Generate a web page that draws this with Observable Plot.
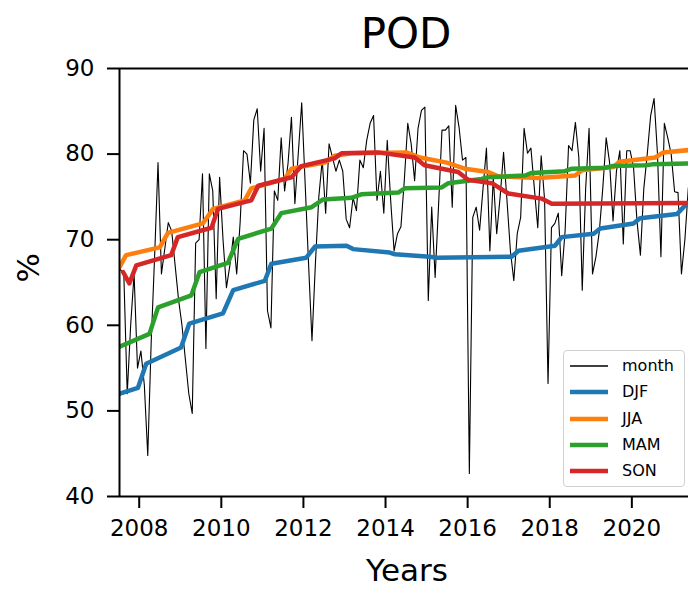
<!DOCTYPE html>
<html>
<head>
<meta charset="utf-8">
<script src="https://cdn.jsdelivr.net/npm/d3@7"></script>
<script src="https://cdn.jsdelivr.net/npm/@observablehq/plot@0.6"></script>
<style>
  body { margin: 0; background: white; font-family: "DejaVu Sans", sans-serif; }
  #wrap { position: relative; width: 688px; height: 589px; overflow: hidden; }
  #legend { position: absolute; left: 563px; top: 350px; width: 122px; height: 137px;
            border: 1px solid #d0d0d0; border-radius: 4px; background: rgba(255,255,255,0.85);
            box-sizing: border-box; }
  .row { position: absolute; left: 0; height: 20px; display: flex; align-items: center; }
  .row span { position: absolute; left: 58px; font-size: 16px; color: #000; white-space: nowrap; line-height: 20px; }
</style>
</head>
<body>
<div id="wrap"><div id="chart"></div><div id="legend"></div></div>
<script>
// ---- data ----
const titleText = "POD";
const xLabel = "Years";
const yLabel = "%";
const xDomain = [2007.52, 2021.38];
const yDomain = [40, 90];
const xTicks = [2008, 2010, 2012, 2014, 2016, 2018, 2020];
const yTicks = [40, 50, 60, 70, 80, 90];

// monthly series, first value = July 2007
const monthStartYear = 2007;
const monthStartMonth = 7;
const monthly = [
  66.5, 66, 52, 60, 66, 55, 57, 53, 44.8, 58, 68, 79,
  66, 69, 72, 71, 67, 63, 60, 56, 52, 49.7, 69.6, 70,
  77.7, 57.3, 77.7, 75.7, 63.1, 77.3, 70, 64.4, 67, 70.3, 66, 72,
  80.4, 80, 76.6, 84, 85.3, 78, 83, 61.7, 59.7, 75.7, 74.6, 81.9,
  75.7, 78.9, 84.3, 74.2, 80.1, 86, 76.6, 67.2, 58.2, 67.2, 75, 79.3,
  73.1, 81.2, 79.6, 78, 79.3, 78, 72.4, 71.4, 74.9, 73.4, 79.3, 78.4,
  81.6, 83.6, 84.5, 74.6, 78, 73.1, 81.6, 74.6, 68.7, 70.7, 71.5, 77,
  83.6, 81.2, 76.9, 83, 85.1, 85.5, 62.9, 73.8, 65.6, 74, 82.8, 82.8,
  83.3, 73.8, 85.7, 83.1, 79.3, 79.6, 42.7, 72.6, 73.8, 71.1, 76, 80.7,
  68.7, 77.3, 70.7, 75, 80.2, 74.6, 68.7, 65.2, 70.7, 72.6, 83, 80.1,
  80.7, 76, 71.4, 79.8, 74.6, 53.2, 71.4, 71.9, 73.1, 65.8, 71.1, 81,
  80.4, 83.7, 79.6, 64.1, 76, 83, 66, 68, 71, 76, 81.9, 79,
  72.2, 78, 80.4, 69.5, 80.4, 80.4, 78.4, 72.2, 68.2, 76, 80, 84.5,
  86.5, 80, 68, 83.6, 81.9, 80, 75.6, 75.5, 66, 70, 76, 79
];

const djfYears  = [2007.51, 2007.97, 2008.17, 2009.02, 2009.22, 2010.04, 2010.29, 2011.06, 2011.22, 2012.07, 2012.28, 2013.05, 2013.21, 2014.10, 2014.23, 2015.08, 2015.24, 2017.07, 2017.24, 2018.13, 2018.29, 2019.07, 2019.23, 2020.04, 2020.20, 2021.10, 2021.26, 2021.45];
const djfValues = [52.0, 52.7, 55.5, 57.4, 60.2, 61.4, 64.1, 65.2, 67.2, 67.9, 69.2, 69.3, 68.9, 68.5, 68.3, 68.0, 67.9, 68.0, 68.7, 69.3, 70.3, 70.7, 71.3, 71.9, 72.5, 73.0, 73.8, 74.6];

const jjaYears  = [2007.52, 2007.68, 2008.50, 2008.70, 2009.55, 2009.80, 2010.57, 2010.73, 2011.54, 2011.71, 2012.52, 2012.76, 2013.17, 2014.51, 2014.84, 2015.49, 2015.93, 2016.50, 2016.75, 2017.72, 2018.62, 2018.78, 2019.55, 2019.70, 2020.57, 2020.77, 2021.45];
const jjaValues = [66.8, 68.2, 69.1, 70.8, 71.9, 73.6, 74.6, 76.0, 77.1, 78.3, 79.0, 79.8, 80.1, 80.2, 79.6, 79.0, 78.3, 77.9, 77.4, 77.2, 77.5, 78.1, 78.5, 79.1, 79.6, 80.2, 80.5];

const mamYears  = [2007.52, 2008.25, 2008.46, 2009.27, 2009.47, 2010.16, 2010.41, 2011.22, 2011.46, 2012.20, 2012.48, 2013.17, 2013.41, 2014.31, 2014.47, 2015.37, 2015.53, 2016.34, 2016.50, 2017.40, 2017.56, 2018.37, 2018.54, 2019.35, 2019.52, 2020.33, 2020.50, 2021.45];
const mamValues = [57.5, 59.0, 62.1, 63.5, 66.2, 67.3, 70.1, 71.3, 73.1, 73.8, 74.7, 74.9, 75.3, 75.5, 76.0, 76.1, 76.6, 77.1, 77.3, 77.5, 77.8, 78.0, 78.3, 78.4, 78.6, 78.7, 78.8, 78.9];

const sonYears  = [2007.61, 2007.76, 2007.93, 2008.78, 2008.94, 2009.76, 2009.92, 2010.73, 2010.90, 2011.71, 2011.95, 2012.76, 2012.93, 2013.82, 2014.71, 2014.95, 2015.77, 2016.01, 2016.59, 2016.99, 2017.80, 2018.05, 2021.45];
const sonValues = [66.2, 64.9, 67.0, 68.2, 70.3, 71.4, 73.6, 74.6, 76.3, 77.3, 78.6, 79.5, 80.1, 80.2, 79.6, 78.7, 77.9, 77.0, 76.6, 75.4, 74.8, 74.2, 74.3];

const seasonNames = ["DJF", "JJA", "MAM", "SON"];
const seasonColors = ["#1f77b4", "#ff7f0e", "#2ca02c", "#d62728"];
const seasonYears = [djfYears, jjaYears, mamYears, sonYears];
const seasonValues = [djfValues, jjaValues, mamValues, sonValues];

// ---- build tables ----
const monthRows = monthly.map((v, k) => ({
  t: monthStartYear + (monthStartMonth - 1 + k + 0.5) / 12, v
}));
const seasonRows = seasonNames.map((name, i) =>
  seasonYears[i].map((t, j) => ({ t, v: seasonValues[i][j], s: name })));

const font = "DejaVu Sans";
const chart = Plot.plot({
  width: 688,
  height: 589,
  marginLeft: 119,
  marginRight: 0,
  marginTop: 68,
  marginBottom: 93,
  style: { fontFamily: font, background: "white", color: "black", overflow: "hidden" },
  x: { domain: xDomain },
  y: { domain: yDomain },
  marks: [
    Plot.line(monthRows, { x: "t", y: "v", stroke: "black", strokeWidth: 1.1, clip: true }),
    ...seasonRows.map((rows, i) =>
      Plot.line(rows, { x: "t", y: "v", stroke: seasonColors[i], strokeWidth: 4.5, clip: true })),
    Plot.ruleX([xDomain[0]], { stroke: "black", strokeWidth: 2 }),
    Plot.ruleY(yDomain, { stroke: "black", strokeWidth: 2 }),
    Plot.axisX({ ticks: xTicks, tickFormat: "d", tickSize: 12, tickPadding: 11, fontSize: 23,
                 label: null, strokeWidth: 2 }),
    Plot.axisY({ ticks: yTicks, tickSize: 12, tickPadding: 13, fontSize: 23,
                 label: null, strokeWidth: 2 }),
    Plot.text([titleText], { text: d => d, frameAnchor: "top", lineAnchor: "middle", dy: -34, dx: 2, fontSize: 42 }),
    Plot.text([xLabel], { text: d => d, frameAnchor: "bottom", lineAnchor: "middle", dy: 75, dx: 3, fontSize: 31 }),
    Plot.text([yLabel], { text: d => d, frameAnchor: "left", lineAnchor: "middle", dx: -90, rotate: -90, fontSize: 31 })
  ]
});
document.getElementById("chart").appendChild(chart);

// ---- legend ----
const legend = document.getElementById("legend");
const entries = [{ name: "month", color: "black", w: 1.5 }]
  .concat(seasonNames.map((n, i) => ({ name: n, color: seasonColors[i], w: 4.5 })));
entries.forEach((e, i) => {
  const row = document.createElement("div");
  row.className = "row";
  row.style.top = (5 + i * 26.3) + "px";
  row.innerHTML = `<svg width="50" height="20" style="position:absolute;left:0;top:0">
      <line x1="6" x2="44" y1="10" y2="10" stroke="${e.color}" stroke-width="${e.w}"/></svg>
      <span>${e.name}</span>`;
  legend.appendChild(row);
});
</script>
</body>
</html>
